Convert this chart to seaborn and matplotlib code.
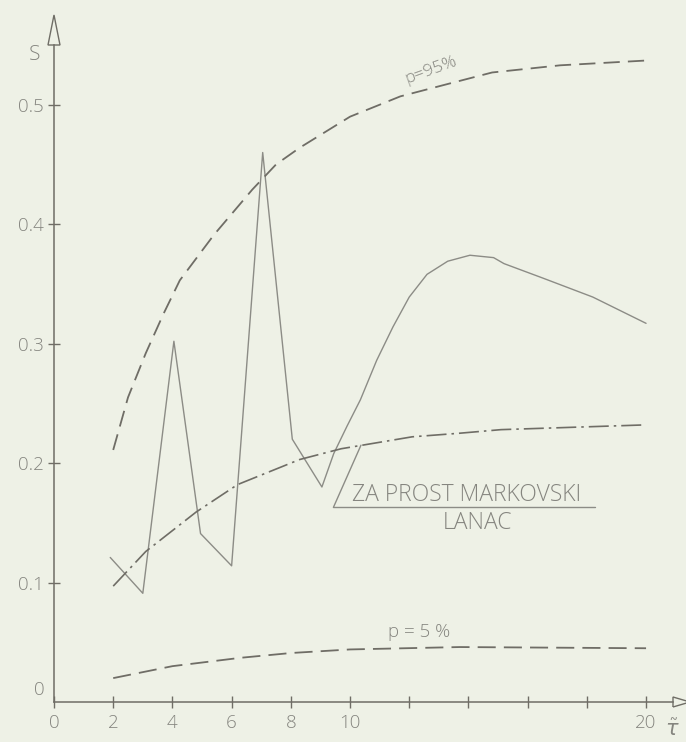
import pandas as pd
import seaborn as sns
import matplotlib.pyplot as plt
from matplotlib.patches import Polygon

# values
solid_x = [1.9, 3.0, 4.05, 4.95, 6.0, 7.05, 8.05, 9.05, 9.45, 9.9, 10.35, 10.9,
           11.45, 12.0, 12.6, 13.3, 14.05, 14.85, 15.2, 16.5, 18.2, 20.0]
solid_y = [0.121, 0.091, 0.302, 0.141, 0.114, 0.46, 0.22, 0.18, 0.208, 0.231, 0.253, 0.286,
           0.314, 0.339, 0.358, 0.369, 0.374, 0.372, 0.367, 0.355, 0.339, 0.317]

p95_x = [2.0, 2.5, 3.1, 3.7, 4.25, 5.4, 6.7, 7.5, 8.3, 10.0, 11.7, 13.4, 14.8, 17.1, 20.0]
p95_y = [0.211, 0.255, 0.292, 0.325, 0.353, 0.391, 0.429, 0.45, 0.464, 0.49, 0.507, 0.518, 0.527, 0.533, 0.537]

markov_x = [2.0, 3.1, 4.8, 6.2, 8.3, 9.7, 12.1, 13.7, 15.1, 20.0]
markov_y = [0.097, 0.126, 0.159, 0.182, 0.203, 0.212, 0.222, 0.225, 0.228, 0.232]

p5_x = [2.0, 4.0, 6.3, 8.0, 10.0, 13.7, 20.0]
p5_y = [0.020, 0.030, 0.037, 0.041, 0.044, 0.046, 0.045]

x_ticks = [0, 2, 4, 6, 8, 10, 12, 14, 16, 18, 20]
x_labels = ['0', '2', '4', '6', '8', '10', '', '', '', '', '20']
y_ticks = [0.1, 0.2, 0.3, 0.4, 0.5]
y_labels = ['0.1', '0.2', '0.3', '0.4', '0.5']
y_minor = [0.05, 0.15, 0.25, 0.35, 0.45]

paper = '#eef1e6'
ink = '#6f6d66'
txt = '#85857f'

sns.set_theme(style='white')
plt.rcParams['font.family'] = ['Open Sans', 'DejaVu Sans']
plt.rcParams['font.weight'] = 'light'

fig = plt.figure(figsize=(6.86, 7.42), dpi=100, facecolor=paper)
ax = fig.add_axes([54 / 686, 40 / 742, 619 / 686, 657 / 742])
ax.set_facecolor(paper)

df_solid = pd.DataFrame({'x': solid_x, 'y': solid_y})
df_p95 = pd.DataFrame({'x': p95_x, 'y': p95_y})
df_markov = pd.DataFrame({'x': markov_x, 'y': markov_y})
df_p5 = pd.DataFrame({'x': p5_x, 'y': p5_y})

sns.lineplot(data=df_solid, x='x', y='y', ax=ax, sort=False, estimator=None,
             color='#8c8c86', lw=1.0)
sns.lineplot(data=df_p95, x='x', y='y', ax=ax, sort=False, estimator=None,
             color=ink, lw=1.3, linestyle=(0, (9, 4.5)))
sns.lineplot(data=df_markov, x='x', y='y', ax=ax, sort=False, estimator=None,
             color=ink, lw=1.2, linestyle=(0, (12, 3, 1.5, 3)))
sns.lineplot(data=df_p5, x='x', y='y', ax=ax, sort=False, estimator=None,
             color=ink, lw=1.3, linestyle=(0, (10, 4.5)))

ax.set_xlim(0, 20.91)
ax.set_ylim(0, 0.55)
ax.set_xticks(x_ticks)
ax.set_xticklabels(x_labels)
ax.set_yticks(y_ticks)
ax.set_yticklabels(y_labels)
ax.set_yticks(y_minor, minor=True)
ax.tick_params(axis='both', which='both', direction='inout', length=9, width=1.0,
               color=ink, labelcolor=txt, labelsize=13.5)
ax.tick_params(axis='y', pad=3, left=True)
ax.tick_params(axis='x', pad=4, bottom=True)
ax.set_xlabel('')
ax.set_ylabel('')

for side in ['top', 'right']:
    ax.spines[side].set_visible(False)
for side in ['left', 'bottom']:
    ax.spines[side].set_color(ink)
    ax.spines[side].set_linewidth(1.1)

# open arrow heads at the ends of the axes
ax.add_patch(Polygon([[-0.0097, 1.0], [0.0097, 1.0], [0.0, 1.0457]], closed=True,
                     fill=False, ec=ink, lw=1.0, transform=ax.transAxes, clip_on=False))
ax.add_patch(Polygon([[1.0, -0.0076], [1.0, 0.0076], [1.0275, 0.0]], closed=True,
                     fill=False, ec=ink, lw=1.0, transform=ax.transAxes, clip_on=False))

ax.text(-0.3, 0.010, '0', ha='right', va='center', fontsize=13.5, color=txt)
ax.text(-0.65, 0.542, 'S', ha='center', va='center', fontsize=15, color=txt, clip_on=False)
ax.text(20.9, -0.024, r'$\tilde{\tau}$', ha='center', va='center', fontsize=15,
        color=txt, clip_on=False)

ax.text(12.75, 0.529, 'p=95%', rotation=20, ha='center', va='center',
        fontsize=12.5, color=txt)
ax.text(12.33, 0.0586, 'p = 5 %', ha='center', va='center', fontsize=13.5, color=txt)
ax.text(13.95, 0.1735, 'ZA PROST MARKOVSKI', ha='center', va='center',
        fontsize=16.5, color=txt)
ax.text(14.3, 0.150, 'LANAC', ha='center', va='center', fontsize=16.5, color=txt)
ax.plot([9.44, 18.28], [0.163, 0.163], color='#8c8c86', lw=1.0)
ax.plot([9.44, 10.37], [0.163, 0.215], color='#8c8c86', lw=1.0)

fig.savefig('out.png', dpi=100, facecolor=paper)
